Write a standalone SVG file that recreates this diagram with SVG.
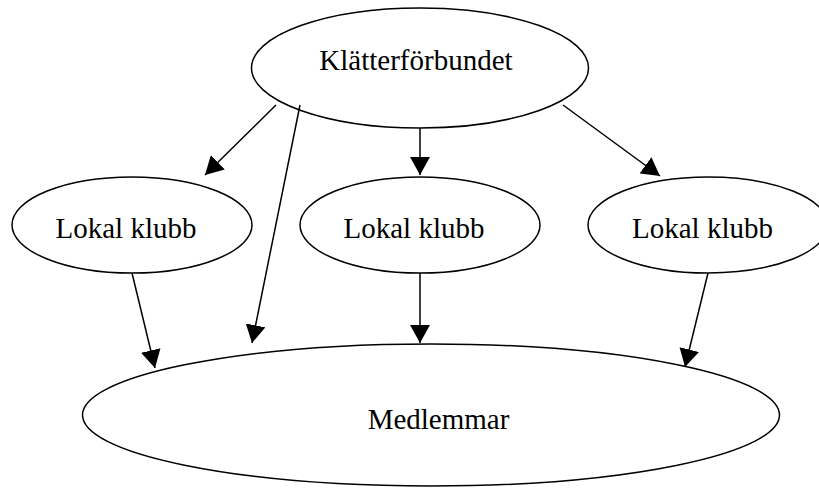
<svg xmlns="http://www.w3.org/2000/svg" width="819" height="488" viewBox="0 0 819 488">
<style>
.node ellipse{fill:#fff;stroke:#000;stroke-width:1.5}
.node text{font-family:"Liberation Serif","Times New Roman",serif;font-size:29px;fill:#000;text-anchor:middle}
#edges line{stroke:#000;stroke-width:1.5;marker-end:url(#arrow)}
</style>
<defs>
<marker id="arrow" viewBox="0 0 18 20" refX="18" refY="10" markerWidth="18" markerHeight="20" markerUnits="userSpaceOnUse" orient="auto">
<path d="M0,0 L18,10 L0,20 z" fill="#000"/>
</marker>
</defs>
<rect width="819" height="488" fill="#fff"/>
<g id="n-forbund" class="node">
<ellipse cx="420" cy="68" rx="168.5" ry="60"/>
<text x="416" y="70">Klätterförbundet</text>
</g>
<g id="n-klubb1" class="node">
<ellipse cx="132" cy="225" rx="120" ry="48"/>
<text x="126" y="238">Lokal klubb</text>
</g>
<g id="n-klubb2" class="node">
<ellipse cx="420" cy="225" rx="120" ry="48"/>
<text x="414" y="238">Lokal klubb</text>
</g>
<g id="n-klubb3" class="node">
<ellipse cx="708" cy="225" rx="120" ry="48"/>
<text x="702.5" y="238">Lokal klubb</text>
</g>
<g id="n-medlemmar" class="node">
<ellipse cx="431" cy="415" rx="348.5" ry="71"/>
<text x="438.5" y="429">Medlemmar</text>
</g>
<g id="edges">
<line x1="276" y1="105" x2="205" y2="175"/>
<line x1="420" y1="128" x2="420" y2="175"/>
<line x1="563" y1="105" x2="660" y2="176"/>
<line x1="300" y1="105" x2="252" y2="343"/>
<line x1="132" y1="273" x2="155" y2="368"/>
<line x1="420" y1="273" x2="420" y2="343"/>
<line x1="708" y1="273" x2="685" y2="367"/>
</g>
</svg>
